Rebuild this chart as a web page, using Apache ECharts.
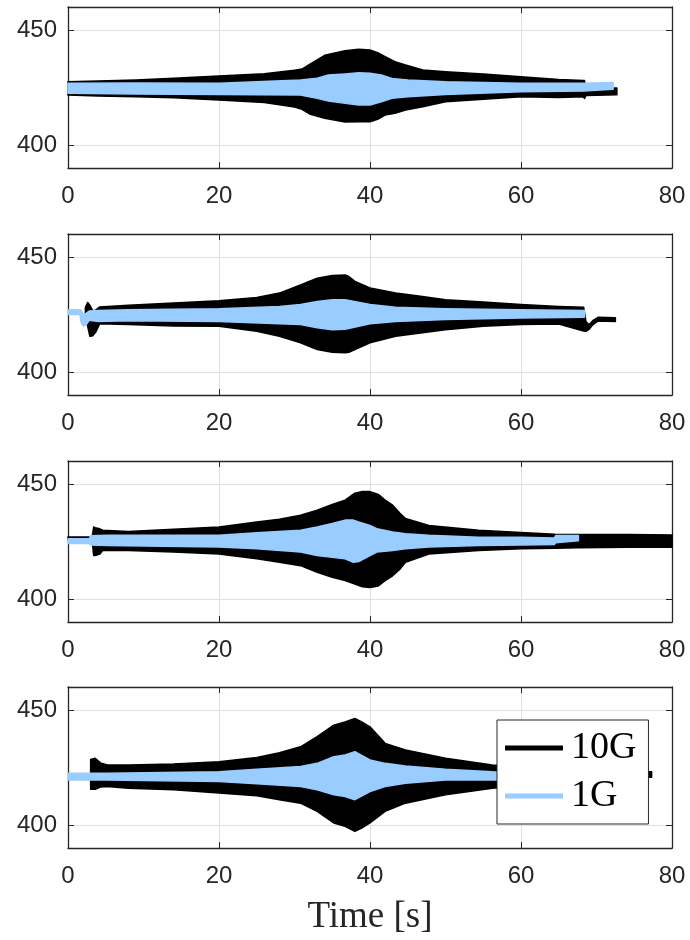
<!DOCTYPE html>
<html>
<head>
<meta charset="utf-8">
<script src="https://cdn.jsdelivr.net/npm/echarts@6/dist/echarts.min.js"></script>
<style>html,body{margin:0;padding:0;background:#fff;}#c{width:690px;height:940px;}</style>
</head>
<body>
<div id="c"></div>
<script>
// ---- axis ticks ----
const xTicks = [0, 20, 40, 60, 80];
const yTicks = [400, 450];
const xLabelName = 'Time [s]';
const seriesNames = ['10G', '1G'];

// ---- Plot 1 ----
const p1BlackX  = [0, 4, 9, 14, 20, 26, 30, 31, 32, 34, 36.7, 38.5, 40, 41, 42, 43.3, 44.7, 47, 50, 55, 60, 65, 68.3, 68.4, 68.6, 72.7];
const p1BlackHi = [427.5, 427.8, 428.3, 429, 430, 431, 432.5, 433, 435, 439, 441, 441.6, 441.3, 440.1, 438.4, 436.2, 434.8, 432.6, 431.9, 430.9, 429.7, 428.5, 428, 428, 424.8, 424.8];
const p1BlackLo = [421.7, 421.3, 421, 420.5, 419.6, 418.5, 416.5, 415.5, 413.5, 411.6, 410, 410.1, 410.1, 411.2, 413, 413.8, 415.2, 416.6, 418.8, 419.9, 421, 420.7, 421, 420.2, 421.5, 421.8];
const p1BlueX   = [0, 9, 20, 30.8, 33, 34.5, 36.7, 38.5, 40, 41.5, 42.9, 45, 50, 60, 68.3, 72.2];
const p1BlueHi  = [426.8, 427, 426.8, 428.3, 429, 430.4, 430.9, 431.4, 431.2, 430.4, 428.9, 428.3, 427.5, 426.8, 426.8, 427.2];
const p1BlueLo  = [422.5, 422.2, 422, 421.7, 420.3, 419.1, 418.1, 417.4, 417.4, 418.8, 420.3, 421, 422, 423.2, 423.5, 424.2];

// ---- Plot 2 ----
const p2BlackX  = [2.3, 2.6, 2.9, 3.3, 3.7, 4.2, 8, 14, 20, 25, 28, 30.8, 33, 35, 36.7, 37.2, 38, 40, 43.4, 46.7, 50, 55, 60, 65, 68.3, 68.6, 69, 69.5, 70.2, 72.5];
const p2BlackHi = [428, 430.2, 429, 426.5, 427, 428.3, 429, 430, 431, 432.4, 434.3, 437.9, 440.8, 442, 442.2, 441.5, 439.4, 436.5, 434.3, 432.9, 431.4, 430.4, 429.3, 428.5, 428.1, 422, 420.5, 422.3, 423.8, 423.6];
const p2BlackLo = [425, 420, 415.5, 415.8, 417.5, 421, 420.6, 420, 419.9, 417.7, 415.5, 412.7, 409.8, 408.6, 408.4, 408.6, 409.8, 412.7, 415.5, 417, 418.4, 419.9, 420.6, 420.9, 417.8, 417.7, 418.5, 420.5, 422.2, 422];
const p2BlueX   = [0, 1.6, 1.7, 2.0, 2.4, 2.8, 4, 8, 20, 28, 30.8, 33, 35, 36.7, 40, 43.4, 50, 60, 68.4];
const p2BlueHi  = [427.1, 427, 427, 425, 425.5, 426.5, 426.7, 427.1, 427.5, 428.5, 429.3, 430.7, 431.4, 431.4, 429.3, 428.1, 427.5, 427.1, 426.7];
const p2BlueLo  = [425, 425, 422, 420, 420.5, 422.5, 422, 422.3, 422, 421, 420.6, 419.2, 418.4, 418.6, 421, 422, 422.8, 423.5, 423.8];

// ---- Plot 3 ----
const p3BlackX  = [0, 3.2, 3.4, 3.6, 4.2, 4.6, 8, 14, 20, 25, 28, 30.8, 33, 35, 36.7, 38, 39, 40, 41.1, 42, 43, 44, 44.7, 47.8, 54.4, 60, 64.5, 67.6, 74.3, 80];
const p3BlackHi = [427, 427, 431.3, 431, 430.5, 429.9, 429.4, 430.3, 431.3, 433.5, 434.7, 436.4, 438.6, 441.1, 443, 446, 446.7, 446.7, 445.5, 443, 440.8, 437.2, 435, 432, 429.9, 428.9, 428.1, 428, 428, 427.8];
const p3BlackLo = [425.6, 425.6, 418.9, 418.9, 419.5, 421.1, 421.1, 420.4, 419.6, 417.5, 416, 414.5, 411.6, 409.4, 408, 406.5, 405.3, 405, 405.7, 408, 410.1, 413.1, 416, 419.6, 421.1, 421.8, 422.1, 422.3, 422.5, 422.5];
const p3BlueX   = [0, 2.8, 3.0, 5.2, 20, 25, 30.8, 33, 35, 36.7, 37.8, 38.5, 40, 40.9, 43, 44.7, 47.8, 54.4, 60, 64.4, 64.6, 67.6];
const p3BlueHi  = [426.2, 426.2, 427.5, 427.7, 427.7, 428.8, 429.9, 431.3, 432.8, 434.3, 434.3, 433.5, 432, 430.6, 429.1, 428.4, 427.7, 426.9, 426.9, 426.5, 427.6, 427.6];
const p3BlueLo  = [424.1, 424.1, 423.5, 423.3, 422.6, 421.8, 420.4, 418.9, 418.2, 417.5, 416, 416.3, 418.9, 420.4, 421.1, 421.8, 422.6, 423.3, 423.5, 423.7, 424.5, 425.3];

// ---- Plot 4 ----
const p4BlackX  = [3.0, 3.6, 4.3, 5.2, 8, 14, 20, 25, 28, 30.8, 33, 35.2, 36.7, 38, 38.9, 40, 42, 44.7, 50, 56.2, 60, 65, 70, 70.5, 71, 77.3];
const p4BlackHi = [428.5, 429, 427, 426.1, 426.1, 426.5, 427.5, 429.4, 431.4, 434, 438.4, 443.4, 444.8, 446.3, 444.8, 442.7, 435.5, 432.6, 429, 426.1, 425.5, 424.5, 424, 424, 423.2, 423.2];
const p4BlackLo = [415.5, 415.5, 416.5, 416.7, 416, 415.3, 413.9, 412.7, 411, 409.5, 405.9, 400.9, 399.4, 397.2, 398.7, 400.9, 405.9, 409.5, 413.1, 416, 417, 418.5, 419.5, 419.8, 420.8, 420.8];
const p4BlueX   = [0, 5.2, 20, 25, 30.8, 33, 35.2, 36.7, 38, 40, 42, 44.7, 50, 56.2, 65, 70];
const p4BlueHi  = [422.5, 422.5, 423.2, 424.2, 425.4, 426.8, 429.7, 430.4, 431.9, 428.3, 426.8, 425.7, 424.2, 423.2, 422.8, 422.6];
const p4BlueLo  = [419.6, 419.6, 418.9, 417.9, 416.7, 415.3, 413.1, 412.4, 411, 414.5, 416.7, 418.2, 419.6, 419.6, 419.8, 420];

const plots = [
  {bx: p1BlackX, bh: p1BlackHi, bl: p1BlackLo, ux: p1BlueX, uh: p1BlueHi, ul: p1BlueLo},
  {bx: p2BlackX, bh: p2BlackHi, bl: p2BlackLo, ux: p2BlueX, uh: p2BlueHi, ul: p2BlueLo},
  {bx: p3BlackX, bh: p3BlackHi, bl: p3BlackLo, ux: p3BlueX, uh: p3BlueHi, ul: p3BlueLo},
  {bx: p4BlackX, bh: p4BlackHi, bl: p4BlackLo, ux: p4BlueX, uh: p4BlueHi, ul: p4BlueLo}
];

const BLACK = '#000000';
const BLUE = '#99CCFF';
const AX = '#262626';
const GRIDC = '#dfdfdf';
const gridTops = [7, 234, 461, 687];

function band(name, g, xs, hi, lo, color, z) {
  return {
    type: 'custom', name: name, xAxisIndex: g * 2, yAxisIndex: g * 2, z: z,
    itemStyle: {color: color},
    data: xs.map((x, i) => [x, lo[i], hi[i]]),
    encode: {x: 0, y: [1, 2]},
    renderItem: function (params, api) {
      if (params.dataIndex !== 0) return null;
      const pts = [];
      for (let i = 0; i < xs.length; i++) pts.push(api.coord([xs[i], hi[i]]));
      for (let i = xs.length - 1; i >= 0; i--) pts.push(api.coord([xs[i], lo[i]]));
      return {type: 'polygon', shape: {points: pts},
        style: {fill: color, stroke: color, lineWidth: 1.5, lineJoin: 'round'}};
    }
  };
}

const grid = [], xAxis = [], yAxis = [], series = [];
gridTops.forEach((top, g) => {
  grid.push({left: 68, right: 18, top: top, height: 161, show: false});
  xAxis.push({
    gridIndex: g, type: 'value', min: xTicks[0], max: xTicks[xTicks.length - 1], interval: 20, position: 'bottom',
    axisLine: {show: true, onZero: false, lineStyle: {color: AX, width: 1.3}},
    axisTick: {show: true, inside: true, length: 6, lineStyle: {color: AX, width: 1}},
    axisLabel: {show: true, fontSize: 24, color: AX, margin: 16, fontFamily: 'Liberation Sans'},
    splitLine: {show: true, lineStyle: {color: GRIDC, width: 1}},
    name: g === 3 ? xLabelName : '', nameLocation: 'middle', nameGap: 51,
    nameTextStyle: {fontFamily: 'Liberation Serif', fontSize: 37, color: AX}
  });
  xAxis.push({
    gridIndex: g, type: 'value', min: xTicks[0], max: xTicks[xTicks.length - 1], interval: 20, position: 'top',
    axisLine: {show: true, onZero: false, lineStyle: {color: AX, width: 1.3}},
    axisTick: {show: true, inside: true, length: 6, lineStyle: {color: AX, width: 1}},
    axisLabel: {show: false}, splitLine: {show: false}
  });
  yAxis.push({
    gridIndex: g, type: 'value', min: 390, max: 460, position: 'left',
    axisLine: {show: true, onZero: false, lineStyle: {color: AX, width: 1.3}},
    axisTick: {show: true, inside: true, length: 6, customValues: yTicks, lineStyle: {color: AX, width: 1}},
    axisLabel: {show: true, customValues: yTicks, fontSize: 24, color: AX, margin: 11, fontFamily: 'Liberation Sans', padding: [8, 0, 0, 0]},
    splitLine: {show: true, lineStyle: {color: GRIDC, width: 1}}
  });
  yAxis.push({
    gridIndex: g, type: 'value', min: 390, max: 460, position: 'right',
    axisLine: {show: true, onZero: false, lineStyle: {color: AX, width: 1.3}},
    axisTick: {show: true, inside: true, length: 6, customValues: yTicks, lineStyle: {color: AX, width: 1}},
    axisLabel: {show: false}, splitLine: {show: false}
  });
  const p = plots[g];
  series.push(band(seriesNames[0], g, p.bx, p.bh, p.bl, BLACK, 2));
  series.push(band(seriesNames[1], g, p.ux, p.uh, p.ul, BLUE, 3));
});

const chart = echarts.init(document.getElementById('c'), null, {renderer: 'canvas'});
chart.setOption({
  animation: false,
  backgroundColor: '#ffffff',
  grid: grid, xAxis: xAxis, yAxis: yAxis, series: series,
  legend: {
    data: seriesNames, left: 497, top: 720, orient: 'vertical', icon: 'rect',
    itemWidth: 58, itemHeight: 5, itemGap: 10, padding: [9, 12, 9, 8],
    backgroundColor: '#ffffff', borderColor: AX, borderWidth: 1, borderRadius: 0,
    selectedMode: false,
    textStyle: {fontFamily: 'Liberation Serif', fontSize: 38, color: '#000', padding: [0, 0, 0, 3]}
  }
});
</script>
</body>
</html>
